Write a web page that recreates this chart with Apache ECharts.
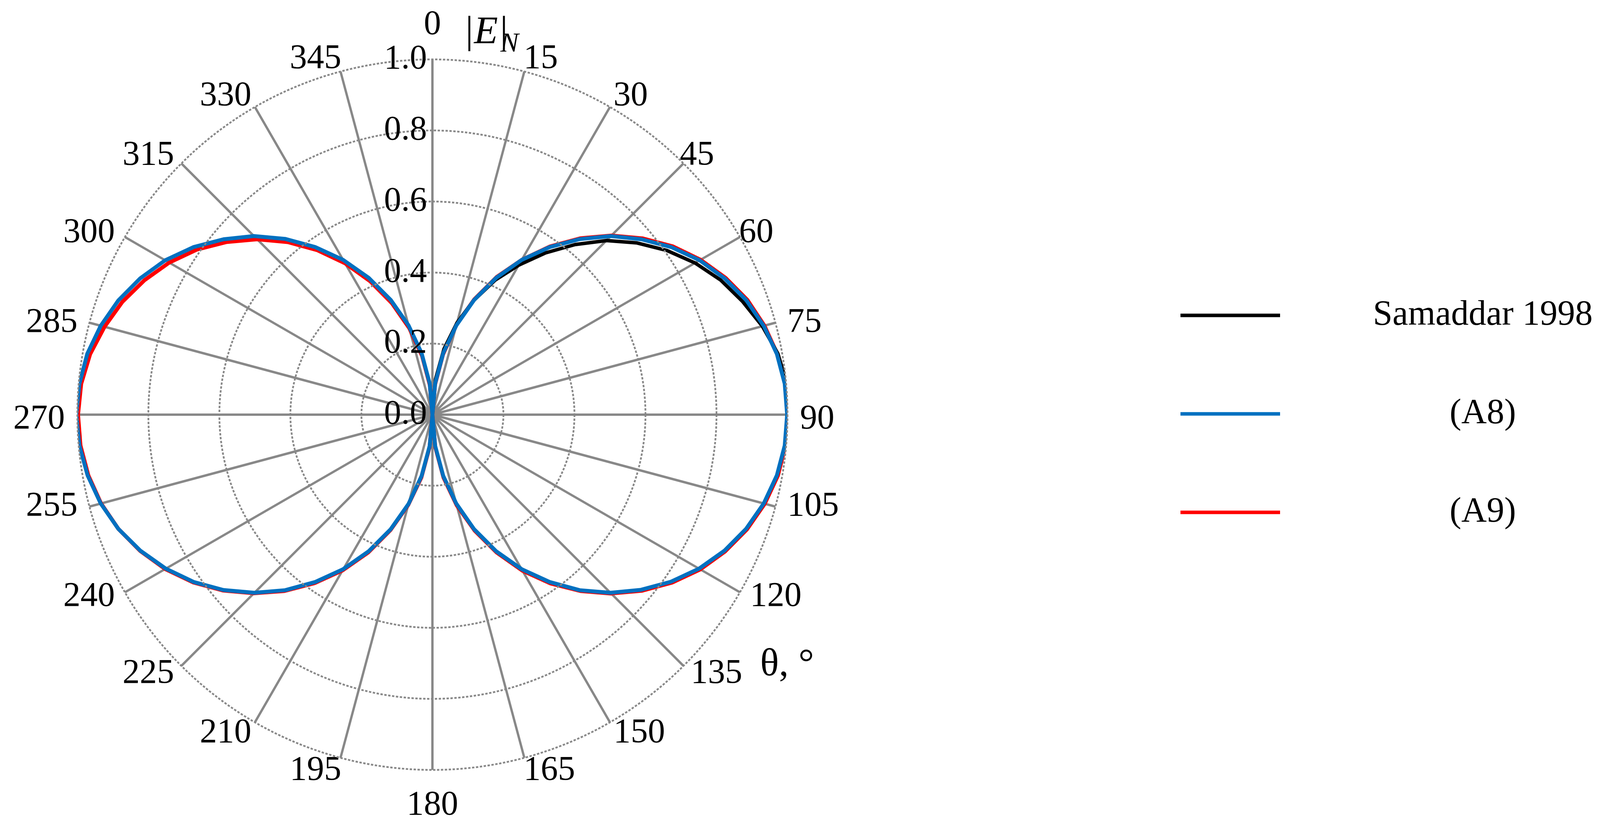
<!DOCTYPE html>
<html>
<head>
<meta charset="utf-8">
<script src="https://cdn.jsdelivr.net/npm/echarts@6/dist/echarts.min.js"></script>
<style>html,body{margin:0;padding:0;background:#fff;}#c{width:4133px;height:2134px;}</style>
</head>
<body>
<div id="c"></div>
<script>
// ---- data ----
const angles = [0,5,10,15,20,25,30,35,40,45,50,55,60,65,70,75,80,85,90,95,100,105,110,115,120,125,130,135,140,145,150,155,160,165,170,175,180,185,190,195,200,205,210,215,220,225,230,235,240,245,250,255,260,265,270,275,280,285,290,295,300,305,310,315,320,325,330,335,340,345,350,355,360];
const a8 = [0.000,0.088,0.176,0.260,0.344,0.425,0.503,0.576,0.645,0.711,0.768,0.822,0.869,0.908,0.941,0.966,0.985,0.996,0.999,0.996,0.985,0.966,0.940,0.907,0.867,0.820,0.767,0.709,0.645,0.575,0.502,0.424,0.343,0.259,0.175,0.088,0.000,0.088,0.175,0.260,0.343,0.424,0.502,0.575,0.645,0.709,0.768,0.821,0.867,0.907,0.941,0.967,0.986,0.998,1.003,0.998,0.987,0.967,0.941,0.908,0.869,0.822,0.768,0.711,0.646,0.576,0.503,0.425,0.344,0.260,0.176,0.088,0.000];
const a9 = [0.000,0.085,0.172,0.262,0.346,0.427,0.503,0.578,0.648,0.713,0.772,0.826,0.872,0.911,0.944,0.968,0.986,0.997,1.000,0.998,0.988,0.969,0.943,0.910,0.871,0.824,0.771,0.712,0.648,0.580,0.507,0.428,0.347,0.264,0.180,0.092,0.000,0.092,0.180,0.263,0.346,0.428,0.506,0.579,0.648,0.711,0.770,0.823,0.869,0.908,0.941,0.966,0.984,0.995,0.998,0.993,0.979,0.956,0.929,0.895,0.856,0.810,0.756,0.698,0.634,0.565,0.492,0.414,0.334,0.252,0.168,0.083,0.000];
const samaddarAngles = [0,5,10,15,20,25,30,35,40,45,50,55,60,65,70,75,80,85,90];
const samaddar = [0.000,0.100,0.188,0.268,0.343,0.418,0.486,0.556,0.625,0.693,0.752,0.806,0.854,0.896,0.930,0.962,0.988,1.002,1.004];
const angleTicks = [0,15,30,45,60,75,90,105,120,135,150,165,180,195,210,225,240,255,270,285,300,315,330,345];
const radiusTicks = ['0.0','0.2','0.4','0.6','0.8','1.0'];
const seriesNames = ['Samaddar 1998','(A8)','(A9)'];

// ---- layout / style ----
const FONT = '"Liberation Serif","Times New Roman",serif';
const F = 88;
const CX = 1107, CY = 1061, R = 909;
const LABEL_MARGIN = -180;
const GRID = '#888888';

const ctx = document.createElement('canvas').getContext('2d');
function tw(s, size) { ctx.font = size + 'px ' + FONT; return ctx.measureText(s).width; }

// angle labels: padding moves each glyph to where the reference puts it
const angleRich = {};
angleTicks.forEach(v => {
  const t = v * Math.PI / 180;
  const sx = Math.sin(t), sy = -Math.cos(t);
  const w = tw(String(v), F), h = F;
  const nearVert = Math.abs(sx) < 0.1;
  const D = nearVert ? 1005 : 955;
  let ex = nearVert ? 0 : Math.sign(sx) * (w / 2 - 14);
  if (sx > 0.6 && sx < 0.9 && sy < 0) ex -= 28;
  const ey = nearVert ? (sy < 0 ? 8 : -5) : (sy < 0.1 ? 12 : -12);
  const base = R + LABEL_MARGIN;
  const dx = (D - base) * sx + ex;
  const dy = (D - base) * sy + ey;
  const f = base / R;
  const ax = Math.abs(f * sx) < 0.3 ? 'center' : (sx > 0 ? 'left' : 'right');
  const ay = Math.abs(f * sy) < 0.3 ? 'middle' : (sy > 0 ? 'top' : 'bottom');
  let pl = 0, pr = 0, pt = 0, pb = 0;
  if (ax === 'left') pl = dx - w / 2;
  else if (ax === 'right') pr = -dx - w / 2;
  else { if (dx > 0) pl = 2 * dx; else pr = -2 * dx; }
  if (ay === 'top') pt = dy - h / 2;
  else if (ay === 'bottom') pb = -dy - h / 2;
  else { if (dy > 0) pt = 2 * dy; else pb = -2 * dy; }
  angleRich['a' + v] = {
    fontSize: F, fontFamily: FONT, color: '#000', height: h,
    padding: [Math.max(0, pt), Math.max(0, pr), Math.max(0, pb), Math.max(0, pl)]
  };
});

// legend text: centred at a common x to the right of the line icons
const LEG_LEFT = 3022, LEG_ICON = 255, LEG_TEXT_CX = 3796, LEG_F = 90;
const legendRich = {};
seriesNames.forEach((n, i) => {
  const w = tw(n, LEG_F);
  legendRich['l' + i] = {
    fontSize: LEG_F, fontFamily: FONT, color: '#000', height: 100,
    padding: [0, 0, 0, Math.max(0, LEG_TEXT_CX - w / 2 - (LEG_LEFT + LEG_ICON + 5))]
  };
});

const chart = echarts.init(document.getElementById('c'), null, { renderer: 'canvas' });
chart.setOption({
  animation: false,
  backgroundColor: '#fff',
  polar: { center: [CX, CY], radius: R },
  angleAxis: {
    type: 'value', min: 0, max: 360, interval: 15,
    startAngle: 90, clockwise: true,
    axisLine: { show: false },
    axisTick: { show: false },
    splitLine: { show: true, lineStyle: { color: GRID, width: 6 } },
    axisLabel: {
      margin: LABEL_MARGIN,
      formatter: v => (v === 360 ? '' : '{a' + v + '|' + v + '}'),
      rich: angleRich
    }
  },
  radiusAxis: {
    type: 'value', min: 0, max: 1, interval: 0.2,
    axisLine: { show: false },
    axisTick: { show: false },
    splitLine: { show: true, lineStyle: { color: GRID, width: 4.5, type: [6, 4] } },
    axisLabel: {
      margin: 14, fontSize: F, fontFamily: FONT, color: '#000',
      formatter: v => radiusTicks[Math.round(v / 0.2)]
    },
    z: 5
  },
  legend: {
    data: seriesNames,
    orient: 'vertical',
    left: LEG_LEFT, top: 762,
    padding: 0,
    icon: 'rect',
    itemWidth: LEG_ICON, itemHeight: 9, itemGap: 162,
    selectedMode: false,
    formatter: name => '{l' + seriesNames.indexOf(name) + '|' + name + '}',
    textStyle: { rich: legendRich }
  },
  graphic: [
    { type: 'text', x: 1186, y: 84, style: { text: '|E|', font: 'italic 100px ' + FONT, fill: '#000', align: 'left', verticalAlign: 'middle' } },
    { type: 'text', x: 1281, y: 114, style: { text: 'N', font: 'italic 70px ' + FONT, fill: '#000', align: 'left', verticalAlign: 'middle' } },
    { type: 'text', x: 1946, y: 1702, style: { text: 'θ, °', font: '100px ' + FONT, fill: '#000', align: 'left', verticalAlign: 'middle' } }
  ],
  series: [
    {
      name: seriesNames[2], type: 'line', coordinateSystem: 'polar', symbol: 'none', clip: false, silent: true,
      lineStyle: { color: '#ff0000', width: 10 }, itemStyle: { color: '#ff0000' },
      data: angles.map((a, i) => [a9[i], a])
    },
    {
      name: seriesNames[0], type: 'line', coordinateSystem: 'polar', symbol: 'none', clip: false, silent: true,
      lineStyle: { color: '#000000', width: 9 }, itemStyle: { color: '#000000' },
      data: samaddarAngles.map((a, i) => [samaddar[i], a])
    },
    {
      name: seriesNames[1], type: 'line', coordinateSystem: 'polar', symbol: 'none', clip: false, silent: true,
      lineStyle: { color: '#0070c0', width: 10 }, itemStyle: { color: '#0070c0' },
      data: angles.map((a, i) => [a8[i], a])
    }
  ]
});
</script>
</body>
</html>
